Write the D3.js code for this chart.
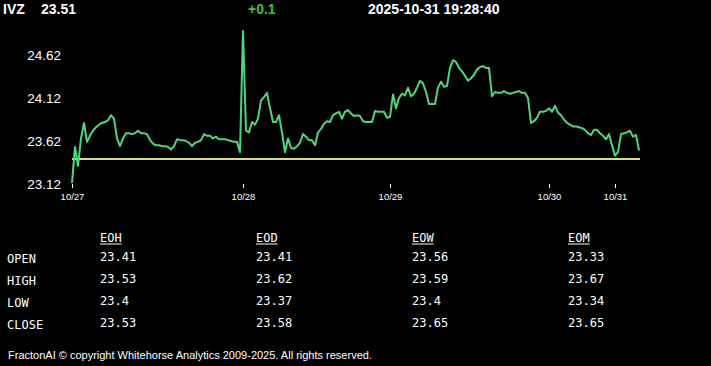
<!DOCTYPE html>
<html>
<head>
<meta charset="utf-8">
<script src="https://cdn.jsdelivr.net/npm/d3@7/dist/d3.min.js"></script>
<style>
  html, body { margin: 0; padding: 0; background: #000; }
  svg { display: block; }
</style>
</head>
<body>
<svg id="chart" width="711" height="366"></svg>
<script>
// ---- Data ----
const symbol = "IVZ";
const lastPrice = "23.51";
const change = "+0.1";
const timestamp = "2025-10-31 19:28:40";
const prevClose = 23.41;

// Intraday prices (sequential samples)
const prices = [
  // 10/27
  23.13, 23.55, 23.33, 23.65, 23.83, 23.61, 23.68, 23.74, 23.78, 23.81,
  23.83, 23.84, 23.86, 23.92, 23.88, 23.65, 23.56, 23.65, 23.71, 23.71,
  23.70, 23.71, 23.74, 23.71, 23.71, 23.70, 23.63, 23.59, 23.57, 23.57,
  23.56, 23.56, 23.55, 23.52, 23.56, 23.64, 23.63, 23.63, 23.62, 23.60,
  23.56, 23.60, 23.61, 23.63, 23.70, 23.68, 23.68, 23.65, 23.67, 23.64,
  23.64, 23.64, 23.63, 23.62, 23.61, 23.61, 23.49,
  // 10/28
  24.90, 23.74, 23.72, 23.84, 23.81, 23.88, 24.09, 24.13, 24.18, 24.00,
  23.84, 23.84, 23.92, 23.72, 23.49, 23.65, 23.54, 23.53, 23.56, 23.60,
  23.70, 23.67, 23.63, 23.63, 23.57, 23.72, 23.76, 23.82, 23.85, 23.84,
  23.92, 23.94, 23.96, 23.88, 23.96, 23.98, 23.94, 23.91, 23.92, 23.91,
  23.85, 23.84, 23.84, 23.84, 23.97, 23.96, 23.96, 23.96, 23.89,
  // 10/29
  23.90, 24.16, 24.00, 24.12, 24.17, 24.15, 24.24, 24.14, 24.17, 24.24,
  24.32, 24.29, 24.19, 24.05, 24.05, 24.05, 24.24, 24.31, 24.25, 24.26,
  24.47, 24.56, 24.54, 24.47, 24.43, 24.38, 24.32, 24.35, 24.39, 24.45,
  24.48, 24.49, 24.47, 24.47, 24.14, 24.19, 24.18, 24.18, 24.20, 24.18,
  24.17, 24.18, 24.19, 24.20, 24.18, 24.18, 24.12, 23.83, 23.85, 23.89,
  23.96, 23.96, 23.97,
  // 10/30
  24.00, 23.96, 24.03, 23.95, 23.92, 23.87, 23.83, 23.81, 23.79, 23.79,
  23.78, 23.77, 23.75, 23.71, 23.69, 23.75, 23.75, 23.71, 23.68, 23.64,
  23.70, 23.57,
  // 10/31
  23.45, 23.49, 23.70, 23.71, 23.72, 23.74, 23.67, 23.69, 23.51
];

const dayLabels = ["10/27", "10/28", "10/29", "10/30", "10/31"];
const dayStartIndex = [0, 57, 106, 159, 181];

const yTickValues = [23.12, 23.62, 24.12, 24.62];

const tableColumns = ["EOH", "EOD", "EOW", "EOM"];
const tableRows = ["OPEN", "HIGH", "LOW", "CLOSE"];
const eohValues = ["23.41", "23.53", "23.4", "23.53"];
const eodValues = ["23.41", "23.62", "23.37", "23.58"];
const eowValues = ["23.56", "23.59", "23.4", "23.65"];
const eomValues = ["23.33", "23.67", "23.34", "23.65"];

const footerText = "FractonAI \u00A9 copyright Whitehorse Analytics 2009-2025. All rights reserved.";

// ---- Drawing ----
const svg = d3.select("#chart");
svg.append("rect").attr("width", 711).attr("height", 366).attr("fill", "#000");

// Header
const headFont = "'Liberation Sans', Arial, sans-serif";
const header = svg.append("g").attr("font-family", headFont)
  .attr("font-weight", "bold").attr("font-size", 14);
header.append("text").attr("x", 3).attr("y", 14).attr("fill", "#fff").text(symbol);
header.append("text").attr("x", 41).attr("y", 14).attr("fill", "#fff").text(lastPrice);
header.append("text").attr("x", 248).attr("y", 14).attr("fill", "#3fbf3f").text(change);
header.append("text").attr("x", 368).attr("y", 14).attr("fill", "#fff").text(timestamp);

// Scales
const x = d3.scaleLinear().domain([0, prices.length - 1]).range([72, 639]);
const y = d3.scaleLinear().domain([23.12, 24.62]).range([184, 55]);

// Y axis
const yAxis = svg.append("g")
  .attr("transform", "translate(66,0)")
  .call(d3.axisLeft(y).tickValues(yTickValues).tickSize(0).tickPadding(5)
        .tickFormat(d3.format(".2f")));
yAxis.select(".domain").remove();
yAxis.selectAll("text")
  .attr("fill", "#fff")
  .attr("font-family", headFont)
  .attr("font-size", 13.5);

// X axis
const xAxis = svg.append("g")
  .attr("transform", "translate(0,184)")
  .call(d3.axisBottom(x).tickValues(dayStartIndex).tickSize(4).tickPadding(5)
        .tickFormat((d, i) => dayLabels[i]));
xAxis.select(".domain").remove();
xAxis.selectAll("line").attr("stroke", "#fff");
xAxis.selectAll("text")
  .attr("fill", "#fff")
  .attr("font-family", headFont)
  .attr("font-size", 9.5);

// Previous close reference line
svg.append("line")
  .attr("x1", x(0)).attr("x2", x(prices.length - 1) + 1)
  .attr("y1", y(prevClose)).attr("y2", y(prevClose))
  .attr("stroke", "#d8e070").attr("stroke-width", 2);

// Price line
const line = d3.line().x((d, i) => x(i)).y(d => y(d));
svg.append("path")
  .datum(prices)
  .attr("d", line)
  .attr("fill", "none")
  .attr("stroke", "#4ed67c")
  .attr("stroke-width", 2)
  .attr("stroke-linejoin", "round");

// Table
const monoFont = "'DejaVu Sans Mono', 'Liberation Mono', monospace";
const colX = d3.scalePoint().domain(tableColumns).range([100, 568]);
const rowY = d3.scalePoint().domain(tableRows).range([262, 328]);
const colValues = [eohValues, eodValues, eowValues, eomValues];

const table = svg.append("g").attr("font-family", monoFont).attr("font-size", 12).attr("fill", "#fff");
tableColumns.forEach((c, ci) => {
  const t = table.append("text").attr("x", colX(c)).attr("y", 242).text(c);
  table.append("line")
    .attr("x1", colX(c)).attr("x2", colX(c) + c.length * 7.22)
    .attr("y1", 244).attr("y2", 244)
    .attr("stroke", "#fff").attr("stroke-width", 1);
  colValues[ci].forEach((v, ri) => {
    table.append("text").attr("x", colX(c)).attr("y", rowY(tableRows[ri]) - 1).text(v);
  });
});
tableRows.forEach(r => {
  table.append("text").attr("x", 7).attr("y", rowY(r) + 1).text(r);
});

// Footer
svg.append("text")
  .attr("x", 8).attr("y", 359)
  .attr("font-family", headFont).attr("font-size", 11)
  .attr("fill", "#fff")
  .text(footerText);
</script>
</body>
</html>
